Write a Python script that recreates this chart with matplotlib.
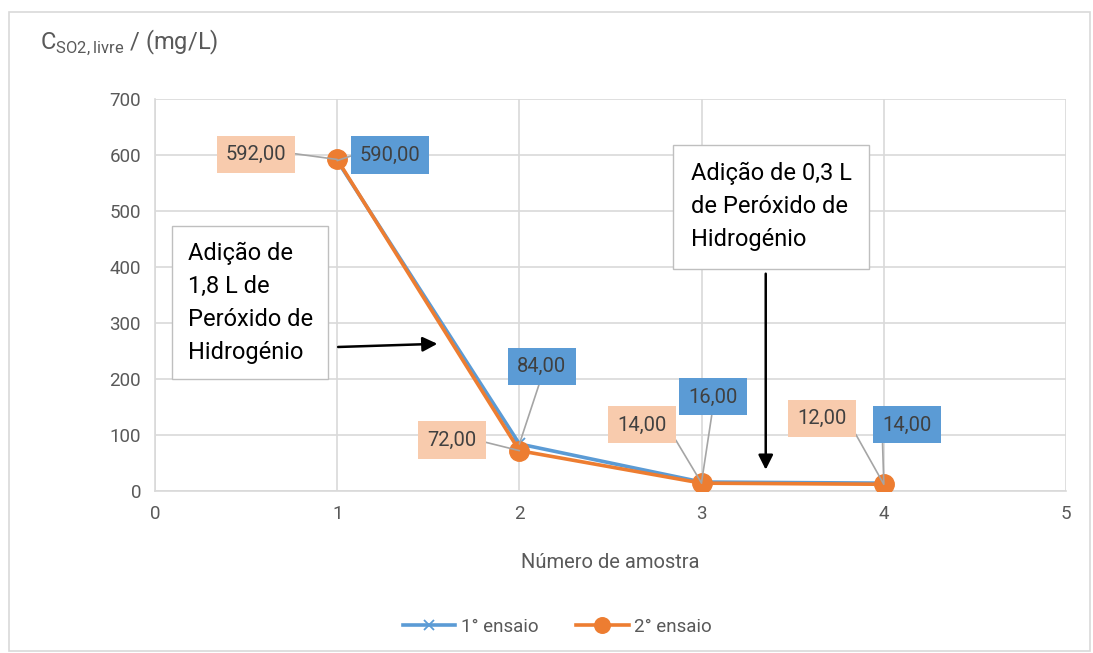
import matplotlib.pyplot as plt
from matplotlib.patches import Rectangle

plt.rcParams['font.family'] = ['Roboto', 'DejaVu Sans']

amostras = [1, 2, 3, 4]
ensaio1 = [590, 84, 16, 14]
ensaio2 = [592, 72, 14, 12]
serie1 = '1° ensaio'
serie2 = '2° ensaio'

azul = '#5B9BD5'
laranja = '#ED7D31'
cinza_txt = '#595959'

fig = plt.figure(figsize=(10.93, 6.53), dpi=100)
fig.patches.append(Rectangle((0.008, 0.003), 0.989, 0.979, transform=fig.transFigure,
                             fill=False, edgecolor='#D9D9D9', linewidth=1.2))
ax = fig.add_axes([0.1418, 0.2481, 0.8335, 0.6003])

ax.plot(amostras, ensaio1, color=azul, lw=2.6, marker='x', ms=9, mew=1.3, label=serie1, zorder=3)
ax.plot(amostras, ensaio2, color=laranja, lw=2.6, marker='o', ms=14, label=serie2, zorder=4)

ax.set_xlim(0, 5)
ax.set_ylim(0, 700)
ax.set_xticks(range(0, 6))
ax.set_yticks(range(0, 701, 100))
ax.grid(color='#D9D9D9', lw=1.2)
ax.set_axisbelow(True)
for s in ['top', 'right']:
    ax.spines[s].set_visible(False)
for s in ['left', 'bottom']:
    ax.spines[s].set_color('#D9D9D9')
    ax.spines[s].set_linewidth(1.2)
ax.tick_params(length=0, labelsize=13.5, colors=cinza_txt, pad=10)
ax.set_xlabel('Número de amostra', fontsize=14.5, color=cinza_txt, labelpad=22)

fig.text(0.037, 0.935, r'C$_{\mathregular{SO2,livre}}$ / (mg/L)', fontsize=17, color=cinza_txt,
         ha='left', va='center')

# rótulos de dados com linhas de chamada
rotulos = [
    (ensaio2[0], amostras[0], 0.554, 601, '#F8CBAD', (1, 0.6)),
    (ensaio1[0], amostras[0], 1.29, 600, azul, (0, 0.6)),
    (ensaio1[1], amostras[1], 2.124, 223, azul, (0.5, 0)),
    (ensaio2[1], amostras[1], 1.63, 91, '#F8CBAD', (1, 0.5)),
    (ensaio2[2], amostras[2], 2.673, 118, '#F8CBAD', (1, 0.5)),
    (ensaio1[2], amostras[2], 3.063, 168, azul, (0.5, 0)),
    (ensaio2[3], amostras[3], 3.661, 130, '#F8CBAD', (1, 0.5)),
    (ensaio1[3], amostras[3], 4.127, 118, azul, (0, 0)),
]
for v, x, tx, ty, cor, rp in rotulos:
    ax.annotate(f'{v:.2f}'.replace('.', ','), xy=(x, v), xytext=(tx, ty),
                ha='center', va='center', fontsize=14.5, color='#404040', zorder=6,
                bbox=dict(boxstyle='square,pad=0.45', fc=cor, ec='none'),
                arrowprops=dict(arrowstyle='-', color='#A5A5A5', lw=1.2,
                                shrinkA=0, shrinkB=0, relpos=rp))

# caixas de texto com setas
ax.text(0.18, 445, 'Adição de\n1,8 L de\nPeróxido de\nHidrogénio', fontsize=17,
        color='black', va='top', ha='left', linespacing=1.55, zorder=6,
        bbox=dict(boxstyle='square,pad=0.65', fc='white', ec='#BFBFBF'))
ax.annotate('', xy=(1.565, 263), xytext=(0.99, 257),
            arrowprops=dict(arrowstyle='-|>', color='black', lw=1.8, mutation_scale=22), zorder=6)
ax.text(2.94, 587, 'Adição de 0,3 L\nde Peróxido de\nHidrogénio', fontsize=17,
        color='black', va='top', ha='left', linespacing=1.55, zorder=6,
        bbox=dict(boxstyle='square,pad=0.75', fc='white', ec='#BFBFBF'))
ax.annotate('', xy=(3.352, 33), xytext=(3.352, 393),
            arrowprops=dict(arrowstyle='-|>', color='black', lw=1.8, mutation_scale=22), zorder=6)

fig.legend(loc='center', bbox_to_anchor=(0.51, 0.04), ncol=2, frameon=False,
           fontsize=13.5, labelcolor=cinza_txt, handlelength=2.8, handletextpad=0.3,
           columnspacing=2.0, markerscale=0.8)

fig.savefig('out.png', dpi=100)
